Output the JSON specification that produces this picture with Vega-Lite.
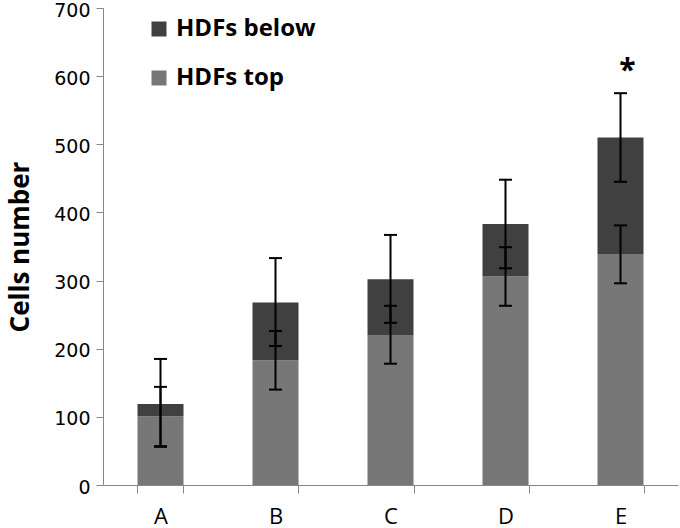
{
  "$schema": "https://vega.github.io/schema/vega-lite/v6.json",
  "width": 575,
  "height": 477,
  "autosize": {"type": "none"},
  "padding": {"left": 103, "top": 8, "right": 2, "bottom": 43},
  "background": "white",
  "config": {
    "view": {"stroke": null},
    "font": "Open Sans",
    "axis": {"grid": false, "domainColor": "#868686", "tickColor": "#868686", "labelColor": "#000000", "labelFont": "Open Sans", "titleFont": "Open Sans"}
  },
  "datasets": {
    "bars": [
      {"cat": "A", "series": "HDFs top", "value": 101},
      {"cat": "A", "series": "HDFs below", "value": 18},
      {"cat": "B", "series": "HDFs top", "value": 183},
      {"cat": "B", "series": "HDFs below", "value": 85},
      {"cat": "C", "series": "HDFs top", "value": 220},
      {"cat": "C", "series": "HDFs below", "value": 82},
      {"cat": "D", "series": "HDFs top", "value": 306},
      {"cat": "D", "series": "HDFs below", "value": 77},
      {"cat": "E", "series": "HDFs top", "value": 339},
      {"cat": "E", "series": "HDFs below", "value": 171}
    ],
    "errors": [
      {"cat": "A", "series": "HDFs top", "lo": 57, "hi": 144},
      {"cat": "A", "series": "HDFs below", "lo": 56, "hi": 185},
      {"cat": "B", "series": "HDFs top", "lo": 140, "hi": 226},
      {"cat": "B", "series": "HDFs below", "lo": 204, "hi": 333},
      {"cat": "C", "series": "HDFs top", "lo": 178, "hi": 263},
      {"cat": "C", "series": "HDFs below", "lo": 238, "hi": 367},
      {"cat": "D", "series": "HDFs top", "lo": 263, "hi": 349},
      {"cat": "D", "series": "HDFs below", "lo": 318, "hi": 448},
      {"cat": "E", "series": "HDFs top", "lo": 296, "hi": 381},
      {"cat": "E", "series": "HDFs below", "lo": 445, "hi": 575}
    ],
    "marks": [
      {"cat": "E", "y": 607, "label": "*"}
    ]
  },
  "layer": [
    {
      "data": {"name": "bars"},
      "mark": {"type": "bar"},
      "encoding": {
        "x": {
          "field": "cat", "type": "nominal", "title": null,
          "scale": {"paddingInner": 0.6, "paddingOuter": 0.3},
          "axis": {"labelAngle": 0, "labelFontSize": 22, "tickBand": "extent", "tickSize": 8, "labelPadding": 13}
        },
        "y": {
          "field": "value", "type": "quantitative", "stack": "zero",
          "title": "Cells number",
          "scale": {"domain": [0, 700], "nice": false},
          "axis": {"values": [0, 100, 200, 300, 400, 500, 600, 700], "labelFont": "DejaVu Sans", "labelFontSize": 19, "labelOffset": 2, "tickSize": 7, "labelPadding": 6, "titleFontSize": 26, "titleFontWeight": "bold", "titleColor": "#000000", "titlePadding": 20}
        },
        "color": {
          "field": "series", "type": "nominal",
          "scale": {"domain": ["HDFs below", "HDFs top"], "range": ["#404040", "#777777"]},
          "legend": {"title": null, "orient": "none", "legendX": 44, "legendY": 9, "symbolType": "square", "symbolSize": 225, "symbolStrokeWidth": 0, "labelFontSize": 24, "labelFontWeight": "bold", "labelColor": "#000000", "rowPadding": 25, "labelOffset": 5, "symbolOpacity": 1}
        },
        "order": {"field": "series", "sort": "descending"}
      }
    },
    {
      "data": {"name": "errors"},
      "mark": {"type": "rule", "color": "#000000", "strokeWidth": 2},
      "encoding": {
        "x": {"field": "cat", "type": "nominal"},
        "y": {"field": "lo", "type": "quantitative"},
        "y2": {"field": "hi"}
      }
    },
    {
      "data": {"name": "errors"},
      "mark": {"type": "tick", "color": "#000000", "thickness": 2, "size": 13, "opacity": 1},
      "encoding": {
        "x": {"field": "cat", "type": "nominal"},
        "y": {"field": "lo", "type": "quantitative"}
      }
    },
    {
      "data": {"name": "errors"},
      "mark": {"type": "tick", "color": "#000000", "thickness": 2, "size": 13, "opacity": 1},
      "encoding": {
        "x": {"field": "cat", "type": "nominal"},
        "y": {"field": "hi", "type": "quantitative"}
      }
    },
    {
      "data": {"name": "marks"},
      "mark": {"type": "text", "fontSize": 30, "fontWeight": "bold", "color": "#000000", "dx": 7, "baseline": "middle"},
      "encoding": {
        "x": {"field": "cat", "type": "nominal"},
        "y": {"field": "y", "type": "quantitative"},
        "text": {"field": "label"}
      }
    }
  ]
}
